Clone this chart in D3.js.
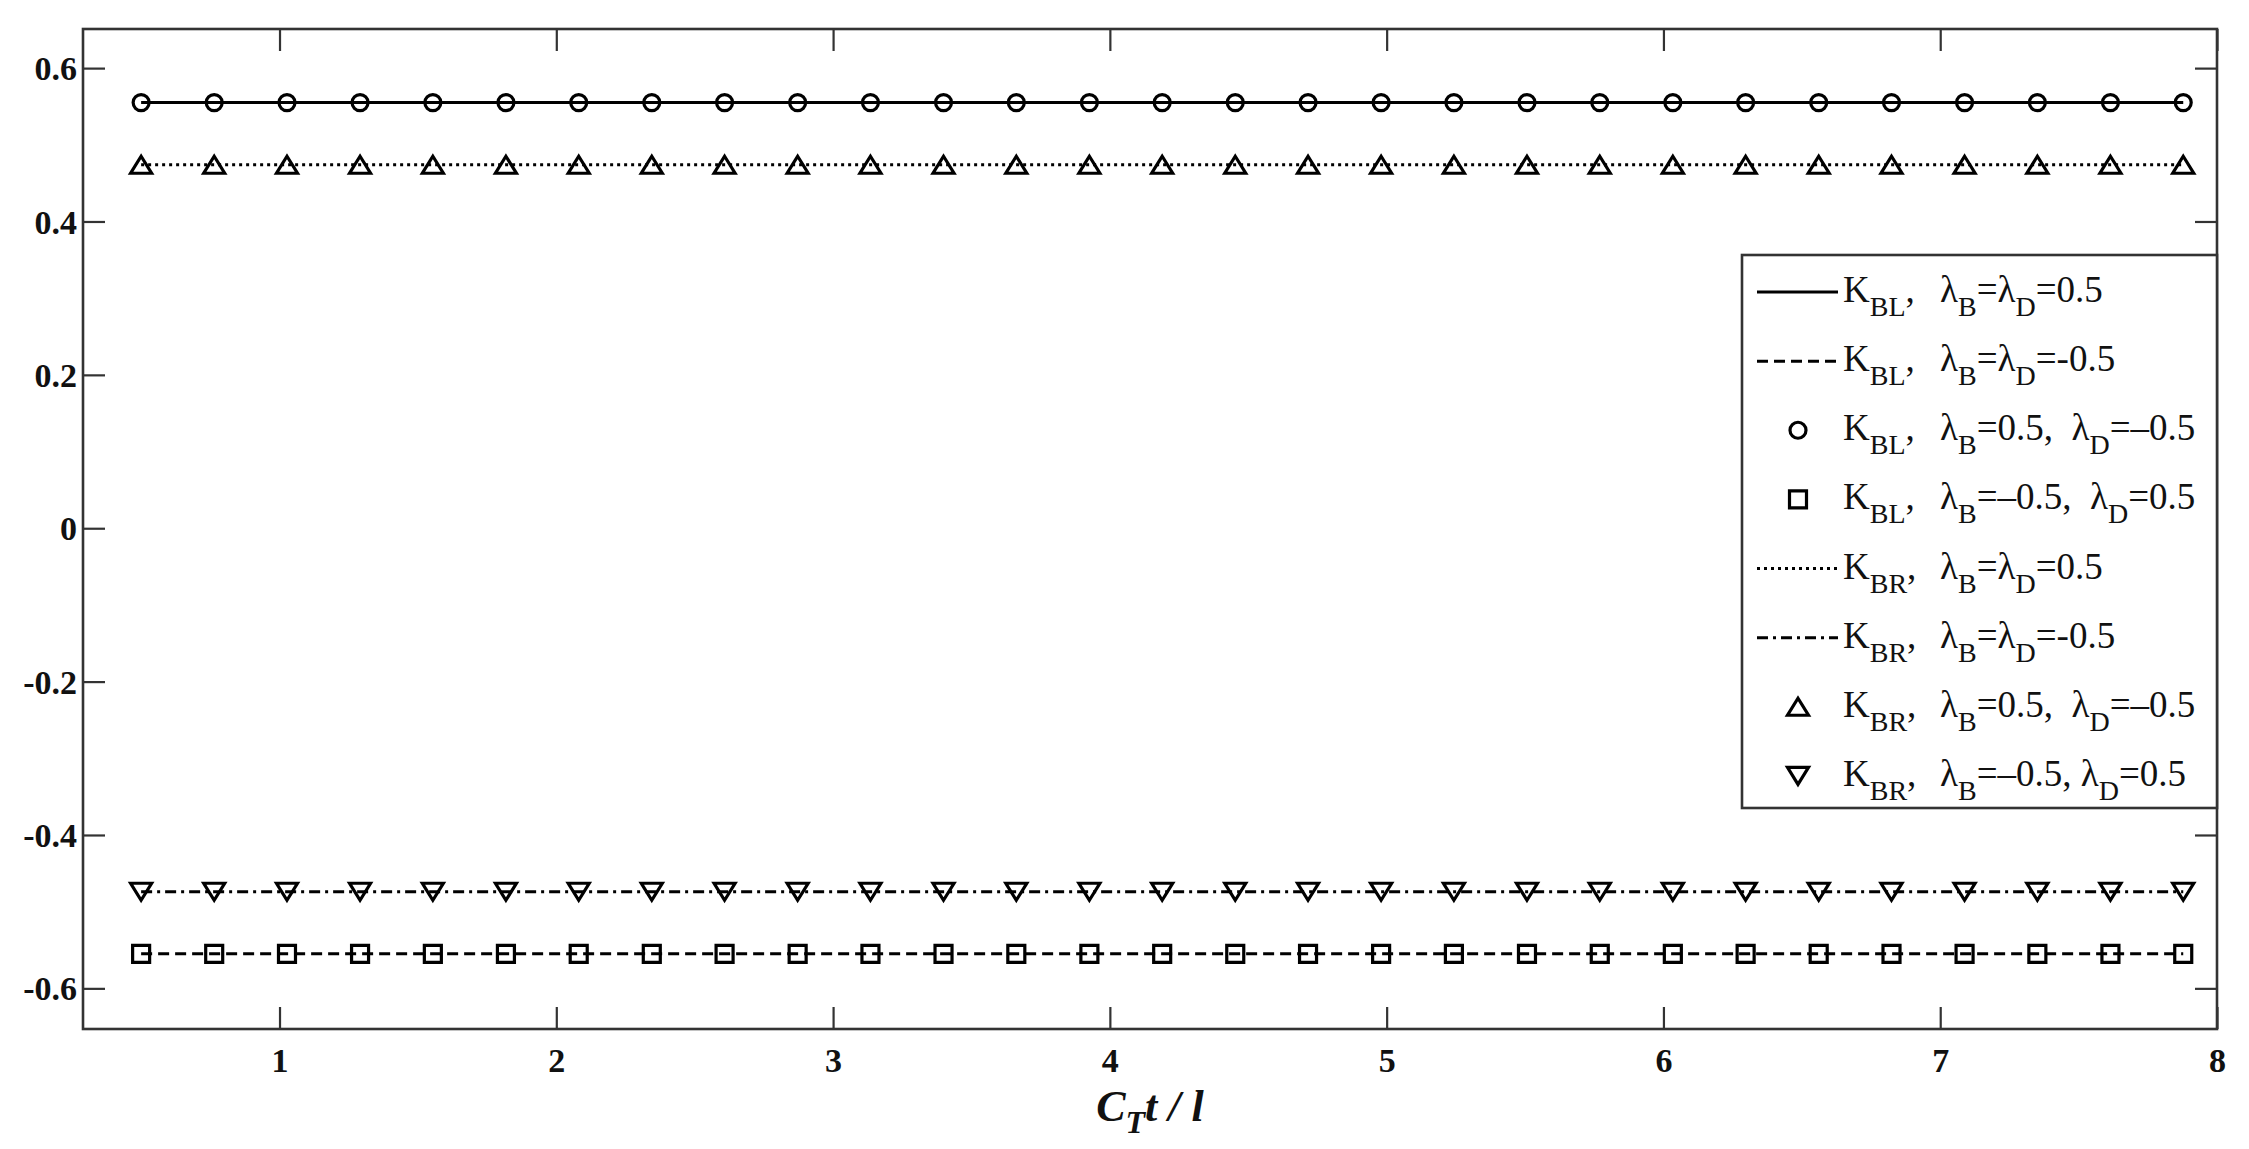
<!DOCTYPE html>
<html>
<head>
<meta charset="utf-8">
<script src="https://cdn.jsdelivr.net/npm/d3@7"></script>
<style>
  html, body { margin: 0; padding: 0; background: #fff; }
  svg { display: block; }
</style>
</head>
<body>
<div id="chart"></div>
<script>
// ---------- data ----------
const xValues = [0.500, 0.764, 1.027, 1.291, 1.554, 1.818, 2.081, 2.345, 2.608, 2.872,
                 3.135, 3.399, 3.662, 3.926, 4.189, 4.453, 4.716, 4.980, 5.243, 5.507,
                 5.770, 6.034, 6.297, 6.561, 6.824, 7.088, 7.351, 7.615, 7.878];

// K_BL, λB=λD=0.5 (solid)
const kblPosPos = [0.555,0.555,0.555,0.555,0.555,0.555,0.555,0.555,0.555,0.555,0.555,0.555,0.555,0.555,0.555,0.555,0.555,0.555,0.555,0.555,0.555,0.555,0.555,0.555,0.555,0.555,0.555,0.555,0.555];
// K_BL, λB=λD=-0.5 (dashed)
const kblNegNeg = [-0.555,-0.555,-0.555,-0.555,-0.555,-0.555,-0.555,-0.555,-0.555,-0.555,-0.555,-0.555,-0.555,-0.555,-0.555,-0.555,-0.555,-0.555,-0.555,-0.555,-0.555,-0.555,-0.555,-0.555,-0.555,-0.555,-0.555,-0.555,-0.555];
// K_BL, λB=0.5, λD=-0.5 (circles)
const kblPosNeg = [0.555,0.555,0.555,0.555,0.555,0.555,0.555,0.555,0.555,0.555,0.555,0.555,0.555,0.555,0.555,0.555,0.555,0.555,0.555,0.555,0.555,0.555,0.555,0.555,0.555,0.555,0.555,0.555,0.555];
// K_BL, λB=-0.5, λD=0.5 (squares)
const kblNegPos = [-0.555,-0.555,-0.555,-0.555,-0.555,-0.555,-0.555,-0.555,-0.555,-0.555,-0.555,-0.555,-0.555,-0.555,-0.555,-0.555,-0.555,-0.555,-0.555,-0.555,-0.555,-0.555,-0.555,-0.555,-0.555,-0.555,-0.555,-0.555,-0.555];
// K_BR, λB=λD=0.5 (dotted)
const kbrPosPos = [0.474,0.474,0.474,0.474,0.474,0.474,0.474,0.474,0.474,0.474,0.474,0.474,0.474,0.474,0.474,0.474,0.474,0.474,0.474,0.474,0.474,0.474,0.474,0.474,0.474,0.474,0.474,0.474,0.474];
// K_BR, λB=λD=-0.5 (dash-dot)
const kbrNegNeg = [-0.474,-0.474,-0.474,-0.474,-0.474,-0.474,-0.474,-0.474,-0.474,-0.474,-0.474,-0.474,-0.474,-0.474,-0.474,-0.474,-0.474,-0.474,-0.474,-0.474,-0.474,-0.474,-0.474,-0.474,-0.474,-0.474,-0.474,-0.474,-0.474];
// K_BR, λB=0.5, λD=-0.5 (up triangles)
const kbrPosNeg = [0.474,0.474,0.474,0.474,0.474,0.474,0.474,0.474,0.474,0.474,0.474,0.474,0.474,0.474,0.474,0.474,0.474,0.474,0.474,0.474,0.474,0.474,0.474,0.474,0.474,0.474,0.474,0.474,0.474];
// K_BR, λB=-0.5, λD=0.5 (down triangles)
const kbrNegPos = [-0.474,-0.474,-0.474,-0.474,-0.474,-0.474,-0.474,-0.474,-0.474,-0.474,-0.474,-0.474,-0.474,-0.474,-0.474,-0.474,-0.474,-0.474,-0.474,-0.474,-0.474,-0.474,-0.474,-0.474,-0.474,-0.474,-0.474,-0.474,-0.474];

const xTicks = [1, 2, 3, 4, 5, 6, 7, 8];
const yTicks = [-0.6, -0.4, -0.2, 0, 0.2, 0.4, 0.6];
const yTickLabels = ["-0.6", "-0.4", "-0.2", "0", "0.2", "0.4", "0.6"];

const series = [
  { k: "BL", lam: [["B","=λ"],["D","=0.5"]],            values: kblPosPos, kind: "line",   dash: null },
  { k: "BL", lam: [["B","=λ"],["D","=-0.5"]],           values: kblNegNeg, kind: "line",   dash: "11,6" },
  { k: "BL", lam: [["B","=0.5,  λ"],["D","=–0.5"]],     values: kblPosNeg, kind: "marker", symbol: "circle" },
  { k: "BL", lam: [["B","=–0.5,  λ"],["D","=0.5"]],     values: kblNegPos, kind: "marker", symbol: "square" },
  { k: "BR", lam: [["B","=λ"],["D","=0.5"]],            values: kbrPosPos, kind: "line",   dash: "3,4" },
  { k: "BR", lam: [["B","=λ"],["D","=-0.5"]],           values: kbrNegNeg, kind: "line",   dash: "11,5,3,5" },
  { k: "BR", lam: [["B","=0.5,  λ"],["D","=–0.5"]],     values: kbrPosNeg, kind: "marker", symbol: "up" },
  { k: "BR", lam: [["B","=–0.5, λ"],["D","=0.5"]],      values: kbrNegPos, kind: "marker", symbol: "down" }
];

// ---------- layout ----------
const W = 2249, H = 1149;
const L = 83, R = 2217, T = 29, B = 1029;
const serif = "'Liberation Serif', 'Times New Roman', serif";

const svg = d3.select("#chart").append("svg")
  .attr("width", W).attr("height", H)
  .style("font-family", serif);

const x = d3.scaleLinear().domain([0.29, 8]).range([L, R]);
const y = d3.scaleLinear().domain([-0.653, 0.651]).range([B, T]);

const tickLen = 22;
const axisColor = "#333";
const tickFont = 34;
const gAxes = svg.append("g");

const xBottom = d3.axisBottom(x).tickValues(xTicks).tickSizeInner(-tickLen).tickSizeOuter(0).tickPadding(43).tickFormat(d3.format("d"));
const xTop = d3.axisTop(x).tickValues(xTicks).tickSizeInner(-tickLen).tickSizeOuter(0).tickFormat("");
const yLeft = d3.axisLeft(y).tickValues(yTicks).tickSizeInner(-tickLen).tickSizeOuter(0).tickPadding(6).tickFormat((d, i) => yTickLabels[i]);
const yRight = d3.axisRight(y).tickValues(yTicks).tickSizeInner(-tickLen).tickSizeOuter(0).tickFormat("");

function styleAxis(g) {
  g.select(".domain").remove();
  g.attr("font-family", null).attr("font-size", null);
  g.selectAll(".tick line").attr("stroke", axisColor).attr("stroke-width", 2.2);
  g.selectAll(".tick text").attr("fill", "#111").style("font-weight", "bold").style("font-size", tickFont + "px")
    .style("font-family", serif);
}
const gxb = gAxes.append("g").attr("transform", `translate(0,${B})`).call(xBottom).call(styleAxis);
gxb.selectAll(".tick text").attr("dy", null);
gAxes.append("g").attr("transform", `translate(0,${T})`).call(xTop).call(styleAxis);
const gyl = gAxes.append("g").attr("transform", `translate(${L},0)`).call(yLeft).call(styleAxis);
gyl.selectAll(".tick text").attr("dy", "0.34em");
gAxes.append("g").attr("transform", `translate(${R},0)`).call(yRight).call(styleAxis);

// frame
svg.append("rect").attr("x", L).attr("y", T).attr("width", R - L).attr("height", B - T)
  .attr("fill", "none").attr("stroke", axisColor).attr("stroke-width", 2.6);

// ---------- series ----------
const gData = svg.append("g");
const lineGen = d3.line().x((d, i) => x(xValues[i])).y(d => y(d));

function symbolPath(sym, cx, cy) {
  if (sym === "square") {
    const s = 8.5;
    return `M${cx - s},${cy - s}H${cx + s}V${cy + s}H${cx - s}Z`;
  }
  if (sym === "up") {
    const w = 10.5, h = 17;
    return `M${cx},${cy - h * 0.5}L${cx + w},${cy + h * 0.5}L${cx - w},${cy + h * 0.5}Z`;
  }
  if (sym === "down") {
    const w = 10.5, h = 17;
    return `M${cx},${cy + h * 0.5}L${cx + w},${cy - h * 0.5}L${cx - w},${cy - h * 0.5}Z`;
  }
  return null;
}

function drawMarker(g, sym, cx, cy) {
  if (sym === "circle") {
    g.append("circle").attr("cx", cx).attr("cy", cy).attr("r", 8)
      .attr("fill", "none").attr("stroke", "#000").attr("stroke-width", 3.2);
  } else {
    g.append("path").attr("d", symbolPath(sym, cx, cy))
      .attr("fill", "none").attr("stroke", "#000").attr("stroke-width", 3.2).attr("stroke-linejoin", "miter");
  }
}

series.forEach(s => {
  if (s.kind === "line") {
    gData.append("path").datum(s.values).attr("d", lineGen)
      .attr("fill", "none").attr("stroke", "#000").attr("stroke-width", 3)
      .attr("stroke-dasharray", s.dash);
  }
});
series.forEach(s => {
  if (s.kind === "marker") {
    s.values.forEach((v, i) => drawMarker(gData, s.symbol, x(xValues[i]), y(v)));
  }
});

// ---------- legend ----------
const LX0 = 1742, LX1 = 2217, LY0 = 255, LY1 = 808;
const gLeg = svg.append("g");
gLeg.append("rect").attr("x", LX0).attr("y", LY0).attr("width", LX1 - LX0).attr("height", LY1 - LY0)
  .attr("fill", "#fff").attr("stroke", axisColor).attr("stroke-width", 2.6);

const rowH = (LY1 - LY0) / series.length;
const fs = 37, sfs = 28, sub = 14;
series.forEach((s, i) => {
  const cy = LY0 + 37 + rowH * i;
  if (s.kind === "line") {
    gLeg.append("line").attr("x1", 1757).attr("x2", 1838).attr("y1", cy).attr("y2", cy)
      .attr("stroke", "#000").attr("stroke-width", 3).attr("stroke-dasharray", s.dash);
  } else {
    drawMarker(gLeg, s.symbol, 1798, cy);
  }
  const base = cy + 10;
  const t1 = gLeg.append("text").attr("x", 1843).attr("y", base).style("font-size", fs + "px").attr("fill", "#111");
  t1.append("tspan").text("K");
  t1.append("tspan").attr("dy", sub).style("font-size", sfs + "px").text(s.k);
  t1.append("tspan").attr("dy", -sub).text(",");

  const t2 = gLeg.append("text").attr("x", 1940).attr("y", base).style("font-size", fs + "px").attr("fill", "#111")
    .style("white-space", "pre");
  t2.append("tspan").text("λ");
  s.lam.forEach(p => {
    t2.append("tspan").attr("dy", sub).style("font-size", sfs + "px").text(p[0]);
    t2.append("tspan").attr("dy", -sub).text(p[1]);
  });
});

// ---------- x label ----------
const xl = svg.append("text").attr("x", (L + R) / 2).attr("y", 1121).attr("text-anchor", "middle")
  .style("font-size", "44px").style("font-weight", "bold").style("font-style", "italic").attr("fill", "#111")
  .style("white-space", "pre");
xl.append("tspan").text("C");
xl.append("tspan").attr("dy", 12).style("font-size", "32px").text("T");
xl.append("tspan").attr("dy", -12).text("t / l");
</script>
</body>
</html>
